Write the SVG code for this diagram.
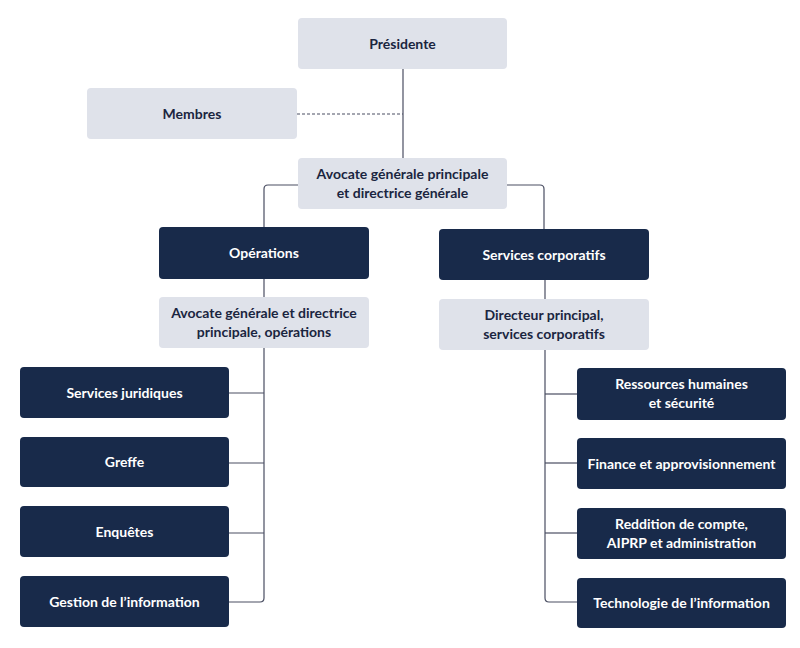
<svg xmlns="http://www.w3.org/2000/svg" width="800" height="648" viewBox="0 0 800 648">
<style>
.l{fill:#dfe2ea}
.d{fill:#182a4a}
.t{font-family:Lato,"Liberation Sans",sans-serif;font-weight:bold;font-size:14px;text-anchor:middle}
.tl{fill:#1a2540}
.td{fill:#ffffff}
.c{fill:none;stroke:#4a4e62;stroke-width:1.2}
</style>
<rect width="800" height="648" fill="#ffffff"/>
<g id="connectors">
<line class="c" x1="403" y1="69" x2="403" y2="158"/>
<line class="c" x1="297" y1="114" x2="403" y2="114" stroke-dasharray="3,2"/>
<path class="c" d="M298 185 H268 Q264 185 264 189 V227"/>
<path class="c" d="M507 185 H540 Q544 185 544 189 V229"/>
<line class="c" x1="264" y1="279" x2="264" y2="297"/>
<line class="c" x1="545" y1="280" x2="545" y2="299"/>
<path class="c" d="M264 348 V598 Q264 602 260 602 H229"/>
<line class="c" x1="229" y1="393" x2="264" y2="393"/>
<line class="c" x1="229" y1="463" x2="264" y2="463"/>
<line class="c" x1="229" y1="533" x2="264" y2="533"/>
<path class="c" d="M545 350 V598 Q545 602 549 602 H577"/>
<line class="c" x1="545" y1="394" x2="577" y2="394"/>
<line class="c" x1="545" y1="463" x2="577" y2="463"/>
<line class="c" x1="545" y1="533" x2="577" y2="533"/>
</g>
<g id="presidente"><rect class="l" x="298" y="18" width="209" height="51" rx="4"/><text class="t tl" x="402.5" y="48.5">Présidente</text></g>
<g id="membres"><rect class="l" x="87" y="88" width="210" height="51" rx="4"/><text class="t tl" x="192" y="118.5">Membres</text></g>
<g id="avocate-principale"><rect class="l" x="298" y="158" width="209" height="51" rx="4"/><text class="t tl" x="402.5" y="179">Avocate générale principale</text><text class="t tl" x="402.5" y="198">et directrice générale</text></g>
<g id="operations"><rect class="d" x="159" y="227" width="210" height="52" rx="4"/><text class="t td" x="264" y="257.5">Opérations</text></g>
<g id="services-corporatifs"><rect class="d" x="439" y="229" width="210" height="51" rx="4"/><text class="t td" x="544" y="259.5">Services corporatifs</text></g>
<g id="avocate-operations"><rect class="l" x="159" y="297" width="210" height="51" rx="4"/><text class="t tl" x="264" y="318">Avocate générale et directrice</text><text class="t tl" x="264" y="337">principale, opérations</text></g>
<g id="directeur-principal"><rect class="l" x="439" y="299" width="210" height="51" rx="4"/><text class="t tl" x="544" y="320">Directeur principal,</text><text class="t tl" x="544" y="339">services corporatifs</text></g>
<g id="services-juridiques"><rect class="d" x="20" y="367" width="209" height="51" rx="4"/><text class="t td" x="124.5" y="397.5">Services juridiques</text></g>
<g id="greffe"><rect class="d" x="20" y="437" width="209" height="50" rx="4"/><text class="t td" x="124.5" y="467">Greffe</text></g>
<g id="enquetes"><rect class="d" x="20" y="506" width="209" height="51" rx="4"/><text class="t td" x="124.5" y="536.5">Enquêtes</text></g>
<g id="gestion-information"><rect class="d" x="20" y="576" width="209" height="51" rx="4"/><text class="t td" x="124.5" y="606.5">Gestion de l’information</text></g>
<g id="ressources-humaines"><rect class="d" x="577" y="368" width="209" height="52" rx="4"/><text class="t td" x="681.5" y="389">Ressources humaines</text><text class="t td" x="681.5" y="408">et sécurité</text></g>
<g id="finance"><rect class="d" x="577" y="438" width="209" height="51" rx="4"/><text class="t td" x="681.5" y="468.5">Finance et approvisionnement</text></g>
<g id="reddition"><rect class="d" x="577" y="508" width="209" height="51" rx="4"/><text class="t td" x="681.5" y="529">Reddition de compte,</text><text class="t td" x="681.5" y="548">AIPRP et administration</text></g>
<g id="technologie"><rect class="d" x="577" y="578" width="209" height="50" rx="4"/><text class="t td" x="681.5" y="608">Technologie de l’information</text></g>
</svg>
